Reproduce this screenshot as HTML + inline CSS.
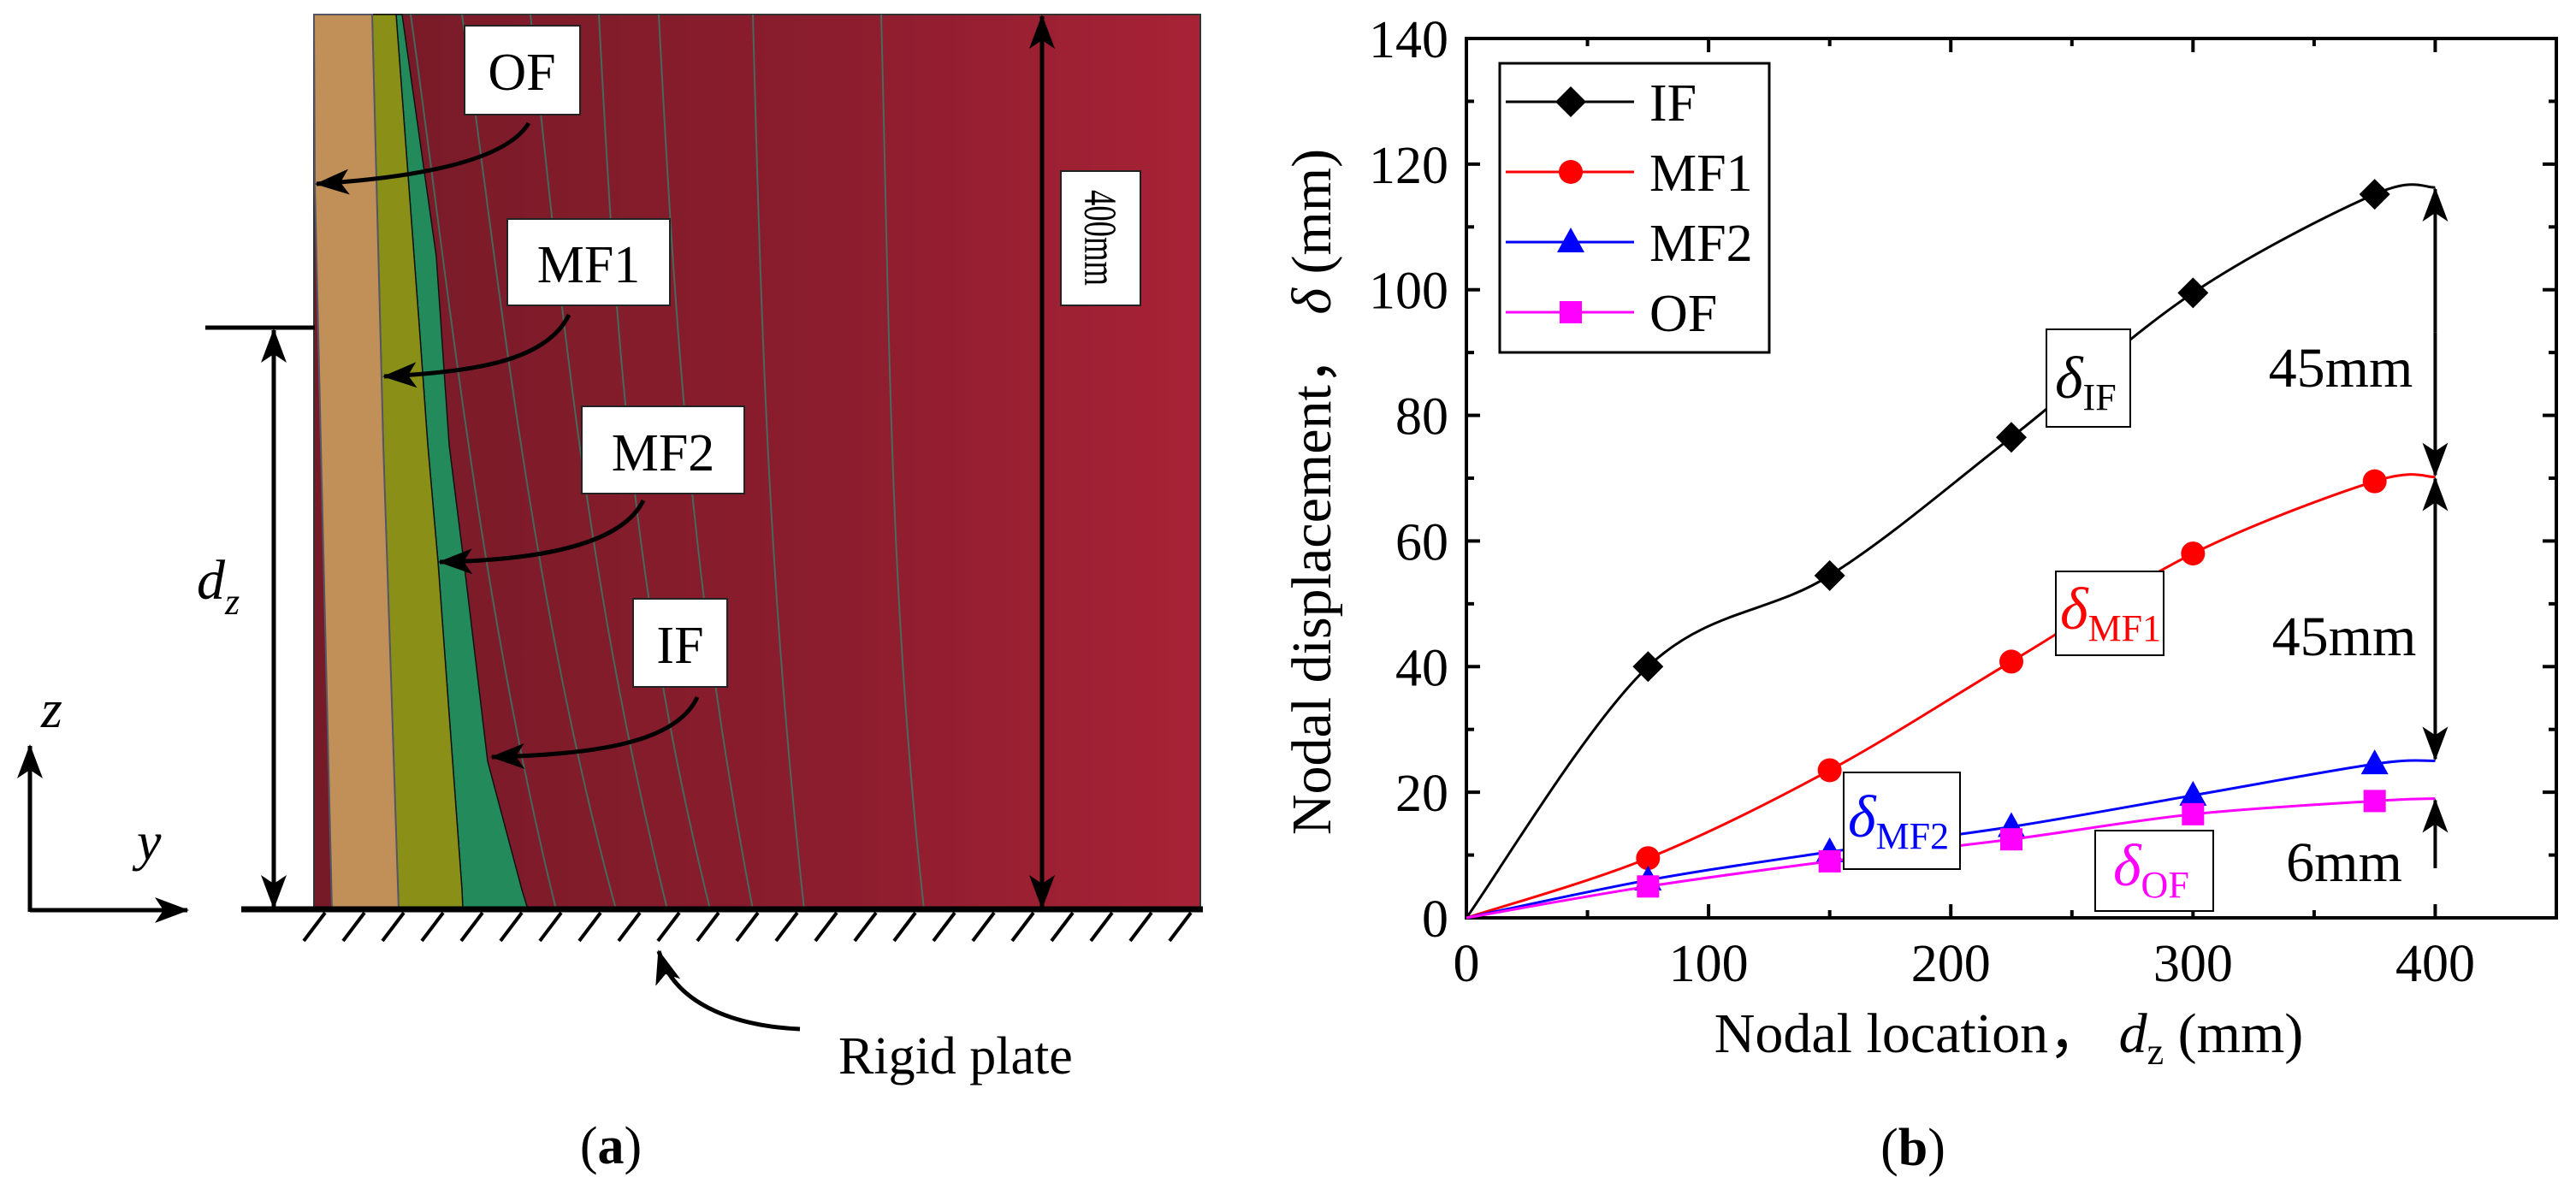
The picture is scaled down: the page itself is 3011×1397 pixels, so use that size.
<!DOCTYPE html>
<html><head><meta charset="utf-8"><style>
html,body{margin:0;padding:0;background:#fff;}
svg{display:block;font-family:"Liberation Serif",serif;}
</style></head><body>
<svg id="fig" width="3011" height="1397" viewBox="0 0 3011 1397" xmlns="http://www.w3.org/2000/svg">
<defs>
<linearGradient id="redg" x1="0" x2="1" y1="0" y2="0"><stop offset="0" stop-color="#761a27"/><stop offset="0.6" stop-color="#8c1d2e"/><stop offset="1" stop-color="#a82236"/></linearGradient>
<marker id="ahb" viewBox="0 0 40 30" refX="38" refY="15" markerWidth="40" markerHeight="30" markerUnits="userSpaceOnUse" orient="auto"><path d="M0,0 L40,15 L0,30 L10,15 Z" fill="#000"/></marker>
</defs>

<!-- Panel (a) -->
<g>
  <rect x="367" y="17" width="1036" height="1046" fill="url(#redg)" stroke="#333" stroke-width="2"/>
  <g fill="none" stroke="#2c8a70" stroke-width="2" opacity="0.7">
    <path d="M480,17 C520,300 560,700 650,1063"/>
    <path d="M540,17 C580,300 620,700 720,1063"/>
    <path d="M620,17 C660,400 690,700 780,1063"/>
    <path d="M700,17 C720,400 740,700 830,1063"/>
    <path d="M770,17 C790,400 810,700 880,1063"/>
    <path d="M880,17 C890,400 900,700 940,1063"/>
    <path d="M1030,17 C1040,400 1040,700 1080,1063"/>
  </g>
  <path d="M470,17 L510,300 L525,520 L545,680 L570,890 L610,1040 L617,1063 L541,1063 L540,1040 L512,657 L500,520 L490,380 L463,17 Z" fill="#238a5c" stroke="#111" stroke-width="1.5"/>
  <path d="M463,17 L490,380 L500,520 L512,657 L540,1040 L541,1063 L466,1063 L448,520 L435,17 Z" fill="#8a8f18" stroke="#111" stroke-width="1.5"/>
  <path d="M367,17 L435,17 L448,520 L466,1063 L388,1063 L375,520 L368,215 Z" fill="#c09058" stroke="#556" stroke-width="2"/>

  <g><rect x="543" y="30" width="135" height="104" fill="#fff" stroke="#222" stroke-width="2"/><text x="610" y="105" font-size="62" text-anchor="middle">OF</text></g>
  <path d="M618,144 C590,190 480,208 370,215" fill="none" stroke="#000" stroke-width="5" marker-end="url(#ahb)"/>
  <g><rect x="593" y="256" width="190" height="101" fill="#fff" stroke="#222" stroke-width="2"/><text x="688" y="330" font-size="62" text-anchor="middle">MF1</text></g>
  <path d="M665,368 C640,420 560,435 449,440" fill="none" stroke="#000" stroke-width="5" marker-end="url(#ahb)"/>
  <g><rect x="680" y="475" width="190" height="102" fill="#fff" stroke="#222" stroke-width="2"/><text x="775" y="550" font-size="62" text-anchor="middle">MF2</text></g>
  <path d="M752,585 C725,640 620,655 514,657" fill="none" stroke="#000" stroke-width="5" marker-end="url(#ahb)"/>
  <g><rect x="740" y="700" width="110" height="103" fill="#fff" stroke="#222" stroke-width="2"/><text x="795" y="775" font-size="62" text-anchor="middle">IF</text></g>
  <path d="M815,815 C790,870 690,882 575,885" fill="none" stroke="#000" stroke-width="5" marker-end="url(#ahb)"/>

  <line x1="1218" y1="1061" x2="1218" y2="19" stroke="#000" stroke-width="5" marker-end="url(#ahb)"/>
  <line x1="1218" y1="19" x2="1218" y2="1061" stroke="#000" stroke-width="5" marker-end="url(#ahb)"/>
  <g><rect x="1240" y="200" width="93" height="157" fill="#fff" stroke="#222" stroke-width="2"/><text transform="translate(1286,278) rotate(90)" font-size="54" text-anchor="middle" dominant-baseline="central" textLength="112" lengthAdjust="spacingAndGlyphs">400mm</text></g>

  <line x1="240" y1="383" x2="368" y2="383" stroke="#000" stroke-width="5"/>
  <line x1="320" y1="1061" x2="320" y2="386" stroke="#000" stroke-width="5" marker-end="url(#ahb)"/>
  <line x1="320" y1="386" x2="320" y2="1061" stroke="#000" stroke-width="5" marker-end="url(#ahb)"/>
  <text x="230" y="700" font-size="66" font-style="italic">d<tspan font-size="44" dy="18">z</tspan></text>

  <line x1="282" y1="1063" x2="1406" y2="1063" stroke="#000" stroke-width="7"/>
  <g stroke="#000" stroke-width="4" id="hatch"></g>
  <path d="M935,1203 C870,1200 790,1180 770,1112" fill="none" stroke="#000" stroke-width="5" marker-end="url(#ahb)"/>
  <text x="980" y="1255" font-size="62">Rigid plate</text>

  <line x1="35" y1="1064" x2="219" y2="1064" stroke="#000" stroke-width="5" marker-end="url(#ahb)"/>
  <line x1="35" y1="1066" x2="35" y2="872" stroke="#000" stroke-width="5" marker-end="url(#ahb)"/>
  <text x="48" y="850" font-size="64" font-style="italic">z</text>
  <text x="160" y="1005" font-size="64" font-style="italic">y</text>
  <text x="714" y="1360" font-size="62" text-anchor="middle">(<tspan font-weight="bold">a</tspan>)</text>
</g>

<!-- Panel (b) -->
<g id="chart">
  <rect x="1714" y="45" width="1274" height="1028" fill="none" stroke="#000" stroke-width="4"/>
  <g id="ticks"></g>
  <g id="series"></g>
  <text transform="translate(1555,575) rotate(-90)" font-size="66" text-anchor="middle">Nodal displacement，  <tspan font-style="italic">δ</tspan> (mm)</text>
  <text x="2348" y="1230" font-size="66" text-anchor="middle">Nodal location，  <tspan font-style="italic">d</tspan><tspan font-size="44" dy="14">z</tspan><tspan dy="-14"> (mm)</tspan></text>
  <text x="2236" y="1362" font-size="62" text-anchor="middle">(<tspan font-weight="bold">b</tspan>)</text>

  <g>
    <rect x="1753" y="74" width="315" height="338" fill="#fff" stroke="#000" stroke-width="3"/>
    <g id="legend-items"></g>
  </g>

  <g><rect x="2392" y="385" width="98" height="114" fill="#fff" stroke="#000" stroke-width="2"/><text x="2402" y="465" font-size="70" font-style="italic">δ<tspan font-style="normal" font-size="44" dy="14">IF</tspan></text></g>
  <g fill="#f00"><rect x="2403" y="668" width="126" height="98" fill="#fff" stroke="#000" stroke-width="2"/><text x="2408" y="735" font-size="70" font-style="italic">δ<tspan font-style="normal" font-size="44" dy="14">MF1</tspan></text></g>
  <g fill="#00f"><rect x="2155" y="903" width="136" height="113" fill="#fff" stroke="#000" stroke-width="2"/><text x="2160" y="978" font-size="70" font-style="italic">δ<tspan font-style="normal" font-size="44" dy="14">MF2</tspan></text></g>
  <g fill="#f0f"><rect x="2449" y="971" width="138" height="94" fill="#fff" stroke="#000" stroke-width="2"/><text x="2470" y="1035" font-size="70" font-style="italic">δ<tspan font-style="normal" font-size="44" dy="14">OF</tspan></text></g>

  <g id="gap-arrows"></g>
  <text x="2736" y="452" font-size="66" text-anchor="middle">45mm</text>
  <text x="2740" y="766" font-size="66" text-anchor="middle">45mm</text>
  <text x="2740" y="1030" font-size="66" text-anchor="middle">6mm</text>
</g>
</svg>
<script>
const locations = [0, 75, 150, 225, 300, 375, 400];
const ifValues = [0, 40, 54.5, 76.5, 99.5, 115.2, 116.3];
const mf1Values = [0, 9.5, 23.5, 40.8, 58, 69.5, 70.2];
const mf2Values = [0, 6, 10.5, 14.5, 19.5, 24.5, 25];
const ofValues = [0, 5, 9, 12.5, 16.5, 18.6, 19];
const seriesNames = ["IF", "MF1", "MF2", "OF"];
const xTicks = [0, 100, 200, 300, 400];
const yTicks = [0, 20, 40, 60, 80, 100, 120, 140];

const NS = "http://www.w3.org/2000/svg";
const X0 = 1714, X1 = 2988, Y0 = 1073, Y1 = 45;
function xs(v){ return X0 + (v - 0) / 450 * (X1 - X0); }
function ys(v){ return Y0 - v / 140 * (Y0 - Y1); }
function mk(tag, attrs, parent){ const e = document.createElementNS(NS, tag); for (const k in attrs) e.setAttribute(k, attrs[k]); parent.appendChild(e); return e; }

const hatch = document.getElementById('hatch');
for (let x = 355; x < 1390; x += 46) {
  const h = mk('line', {x1: x, y1: 1100, x2: x + 25, y2: 1067}, hatch);
  
  
}

const tg = document.getElementById('ticks');
for (let v = 0; v <= 140; v += 10) {
  const major = v % 20 === 0;
  const L = major ? 16 : 9;
  const a = mk('line', {x1: X0, y1: ys(v), x2: X0 + L, y2: ys(v), stroke: '#000', 'stroke-width': 4}, tg);
  
  
  const b = mk('line', {x1: X1, y1: ys(v), x2: X1 - L, y2: ys(v), stroke: '#000', 'stroke-width': 4}, tg);
  
  
}
for (let v = 0; v <= 450; v += 50) {
  const major = v % 100 === 0;
  const L = major ? 16 : 9;
  const a = mk('line', {x1: xs(v), y1: Y0, x2: xs(v), y2: Y0 - L, stroke: '#000', 'stroke-width': 4}, tg);
  
  
  const b = mk('line', {x1: xs(v), y1: Y1, x2: xs(v), y2: Y1 + L, stroke: '#000', 'stroke-width': 4}, tg);
  
  
}
yTicks.forEach(v => {
  const t = mk('text', {x: 1693, y: ys(v) + 22, 'font-size': 62, 'text-anchor': 'end'}, tg);
  t.textContent = String(v);
  
  
});
xTicks.forEach(v => {
  const t = mk('text', {x: xs(v), y: 1147, 'font-size': 62, 'text-anchor': 'middle'}, tg);
  t.textContent = String(v);
  
  
});

function splinePath(xv, yv){
  const p = xv.map((x, i) => [xs(x), ys(yv[i])]);
  let d = 'M' + p[0][0] + ',' + p[0][1];
  for (let i = 0; i < p.length - 1; i++) {
    const p0 = p[Math.max(0, i - 1)], p1 = p[i], p2 = p[i + 1], p3 = p[Math.min(p.length - 1, i + 2)];
    const c1 = [p1[0] + (p2[0] - p0[0]) / 6, p1[1] + (p2[1] - p0[1]) / 6];
    const c2 = [p2[0] - (p3[0] - p1[0]) / 6, p2[1] - (p3[1] - p1[1]) / 6];
    d += ' C' + c1.join(',') + ' ' + c2.join(',') + ' ' + p2.join(',');
  }
  return d;
}
function marker(shape, cx, cy, color, parent){
  let e;
  if (shape === 'diamond') e = mk('path', {d: `M${cx},${cy-18} L${cx+18},${cy} L${cx},${cy+18} L${cx-18},${cy} Z`, fill: color}, parent);
  else if (shape === 'circle') e = mk('circle', {cx: cx, cy: cy, r: 14, fill: color}, parent);
  else if (shape === 'triangle') e = mk('path', {d: `M${cx},${cy-17} L${cx+16},${cy+12} L${cx-16},${cy+12} Z`, fill: color}, parent);
  else e = mk('rect', {x: cx - 13, y: cy - 13, width: 26, height: 26, fill: color}, parent);
  return e;
}
const styles = [
  {vals: ifValues, color: '#000', shape: 'diamond'},
  {vals: mf1Values, color: '#f00', shape: 'circle'},
  {vals: mf2Values, color: '#00f', shape: 'triangle'},
  {vals: ofValues, color: '#f0f', shape: 'square'}
];
const sg = document.getElementById('series');
const lg = document.getElementById('legend-items');
styles.forEach((s, k) => {
  const path = mk('path', {d: splinePath(locations, s.vals), fill: 'none', stroke: s.color, 'stroke-width': 3}, sg);
  
  
  for (let i = 1; i < locations.length - 1; i++) {
    const m = marker(s.shape, xs(locations[i]), ys(s.vals[i]), s.color, sg);
    
    
  }
  const ly = 119 + k * 82;
  const ll = mk('line', {x1: 1760, y1: ly, x2: 1910, y2: ly, stroke: s.color, 'stroke-width': 3}, lg);
  
  
  const lm = marker(s.shape, 1836, ly, s.color, lg);
  
  
  const lt = mk('text', {x: 1928, y: ly + 22, 'font-size': 62}, lg);
  lt.textContent = seriesNames[k];
  
  
});

const ga = document.getElementById('gap-arrows');
const last = locations.length - 1;
const ax = xs(400);
function dbl(yA, yB, name){
  const a = mk('line', {x1: ax, y1: (yA + yB) / 2, x2: ax, y2: yA + 2, stroke: '#000', 'stroke-width': 4, 'marker-end': 'url(#ahb)'}, ga);
  
  
  const b = mk('line', {x1: ax, y1: (yA + yB) / 2, x2: ax, y2: yB - 2, stroke: '#000', 'stroke-width': 4, 'marker-end': 'url(#ahb)'}, ga);
  
  
}
dbl(ys(ifValues[last]), ys(mf1Values[last]), 'gap-if-mf1');
dbl(ys(mf1Values[last]), ys(mf2Values[last]), 'gap-mf1-mf2');
const g6 = mk('line', {x1: ax, y1: 1015, x2: ax, y2: ys(ofValues[last]) + 2, stroke: '#000', 'stroke-width': 4, 'marker-end': 'url(#ahb)'}, ga);


</script>
</body></html>
